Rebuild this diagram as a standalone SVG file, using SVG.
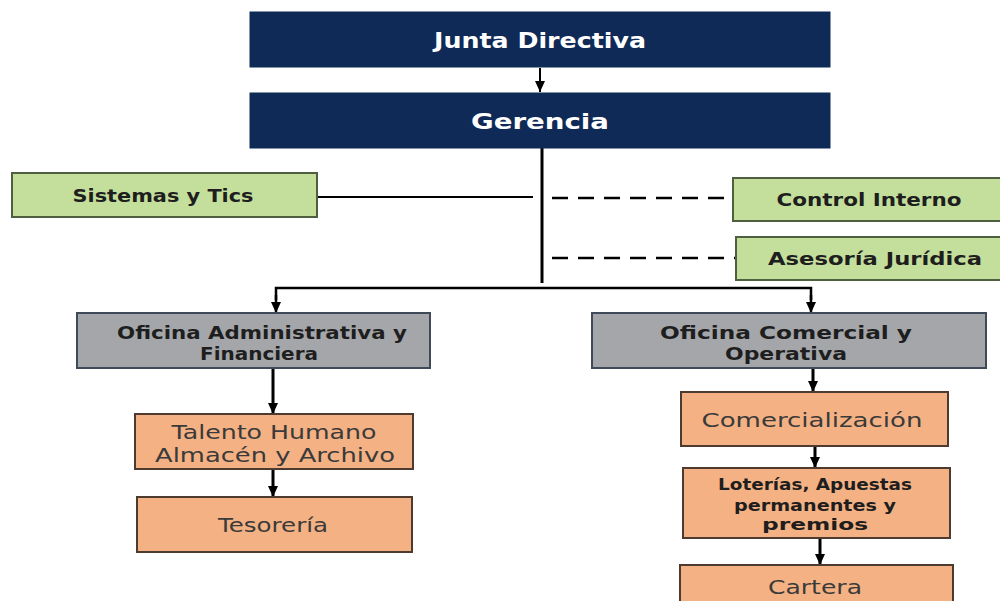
<svg xmlns="http://www.w3.org/2000/svg" width="1000" height="601" viewBox="0 0 1000 601">
<defs>
<style>
.navy{fill:#0f2a57;stroke:#0f2a57;stroke-width:1}
.green{fill:#c4df9b;stroke:#4f6040;stroke-width:2}
.gray{fill:#a4a6aa;stroke:#3e4a5a;stroke-width:2}
.orange{fill:#f4b183;stroke:#4d3b30;stroke-width:2}
text{font-family:"DejaVu Sans","Liberation Sans",Arial,sans-serif;text-anchor:middle}
.wt{fill:#ffffff;font-weight:bold;font-size:21px}
.bt{fill:#1e1e1e;font-weight:bold;font-size:17px}
.rt{fill:#3a3a3a;font-size:19px}
.st{fill:#1e1e1e;font-weight:bold;font-size:15px}
.ln{stroke:#000;fill:none}
.ds{stroke:#000;fill:none;stroke-width:2.5;stroke-dasharray:16 10}
</style>
<marker id="ah" markerUnits="userSpaceOnUse" markerWidth="12" markerHeight="10" refX="11" refY="5" orient="auto">
<path d="M0,0 L11,5 L0,10 Z" fill="#000"/>
</marker>
</defs>
<rect width="1000" height="601" fill="#ffffff"/>
<g id="connectors">
<line class="ln" x1="540" y1="68" x2="540" y2="92" stroke-width="2" marker-end="url(#ah)"/>
<line class="ln" x1="542" y1="148" x2="542" y2="283" stroke-width="3"/>
<line class="ln" x1="317" y1="197" x2="533" y2="197" stroke-width="2"/>
<line class="ds" x1="552" y1="198" x2="733" y2="198"/>
<line class="ds" x1="552" y1="258" x2="736" y2="258"/>
<polyline class="ln" points="276,300 276,288 811,288 811,300" stroke-width="2.5"/>
<line class="ln" x1="276" y1="295" x2="276" y2="313" stroke-width="2.5" marker-end="url(#ah)"/>
<line class="ln" x1="811" y1="295" x2="811" y2="313" stroke-width="2.5" marker-end="url(#ah)"/>
<line class="ln" x1="273" y1="368" x2="273" y2="414" stroke-width="3" marker-end="url(#ah)"/>
<line class="ln" x1="813" y1="368" x2="813" y2="392" stroke-width="3" marker-end="url(#ah)"/>
<line class="ln" x1="273" y1="469" x2="273" y2="497" stroke-width="3" marker-end="url(#ah)"/>
<line class="ln" x1="815" y1="446" x2="815" y2="468" stroke-width="3" marker-end="url(#ah)"/>
<line class="ln" x1="820" y1="538" x2="820" y2="565" stroke-width="3" marker-end="url(#ah)"/>
</g>
<g id="junta">
<rect class="navy" x="250" y="12" width="580" height="55"/>
<text class="wt" x="540" y="48" textLength="212" lengthAdjust="spacingAndGlyphs">Junta Directiva</text>
</g>
<g id="gerencia">
<rect class="navy" x="250" y="93" width="580" height="55"/>
<text class="wt" x="540" y="129" textLength="138" lengthAdjust="spacingAndGlyphs">Gerencia</text>
</g>
<g id="sistemas">
<rect class="green" x="12" y="173" width="305" height="44"/>
<text class="bt" x="163" y="202" textLength="181" lengthAdjust="spacingAndGlyphs">Sistemas y Tics</text>
</g>
<g id="control">
<rect class="green" x="733" y="178" width="268" height="43"/>
<text class="bt" x="869" y="206" textLength="185" lengthAdjust="spacingAndGlyphs">Control Interno</text>
</g>
<g id="asesoria">
<rect class="green" x="736" y="237" width="265" height="43"/>
<text class="bt" x="875" y="265" textLength="214" lengthAdjust="spacingAndGlyphs">Asesoría Jurídica</text>
</g>
<g id="oficina-admin">
<rect class="gray" x="77" y="313" width="353" height="55"/>
<text class="bt" x="262" y="339" textLength="290" lengthAdjust="spacingAndGlyphs">Oficina Administrativa y</text>
<text class="bt" x="259" y="360" textLength="118" lengthAdjust="spacingAndGlyphs">Financiera</text>
</g>
<g id="oficina-comercial">
<rect class="gray" x="592" y="313" width="394" height="55"/>
<text class="bt" x="786" y="339" textLength="252" lengthAdjust="spacingAndGlyphs">Oficina Comercial y</text>
<text class="bt" x="786" y="360" textLength="122" lengthAdjust="spacingAndGlyphs">Operativa</text>
</g>
<g id="talento">
<rect class="orange" x="135" y="414" width="278" height="55"/>
<text class="rt" x="274" y="439" textLength="205" lengthAdjust="spacingAndGlyphs">Talento Humano</text>
<text class="rt" x="275" y="462" textLength="240" lengthAdjust="spacingAndGlyphs">Almacén y Archivo</text>
</g>
<g id="tesoreria">
<rect class="orange" x="137" y="497" width="275" height="55"/>
<text class="rt" x="273" y="532" textLength="110" lengthAdjust="spacingAndGlyphs">Tesorería</text>
</g>
<g id="comercializacion">
<rect class="orange" x="681" y="392" width="267" height="54"/>
<text class="rt" x="812" y="427" textLength="221" lengthAdjust="spacingAndGlyphs">Comercialización</text>
</g>
<g id="loterias">
<rect class="orange" x="683" y="468" width="267" height="70"/>
<text class="st" x="815" y="490" textLength="194" lengthAdjust="spacingAndGlyphs">Loterías, Apuestas</text>
<text class="st" x="815" y="511" textLength="162" lengthAdjust="spacingAndGlyphs">permanentes y</text>
<text class="st" x="815" y="530" textLength="106" lengthAdjust="spacingAndGlyphs">premios</text>
</g>
<g id="cartera">
<rect class="orange" x="680" y="565" width="273" height="45"/>
<text class="rt" x="815" y="594" textLength="94" lengthAdjust="spacingAndGlyphs">Cartera</text>
</g>
</svg>
